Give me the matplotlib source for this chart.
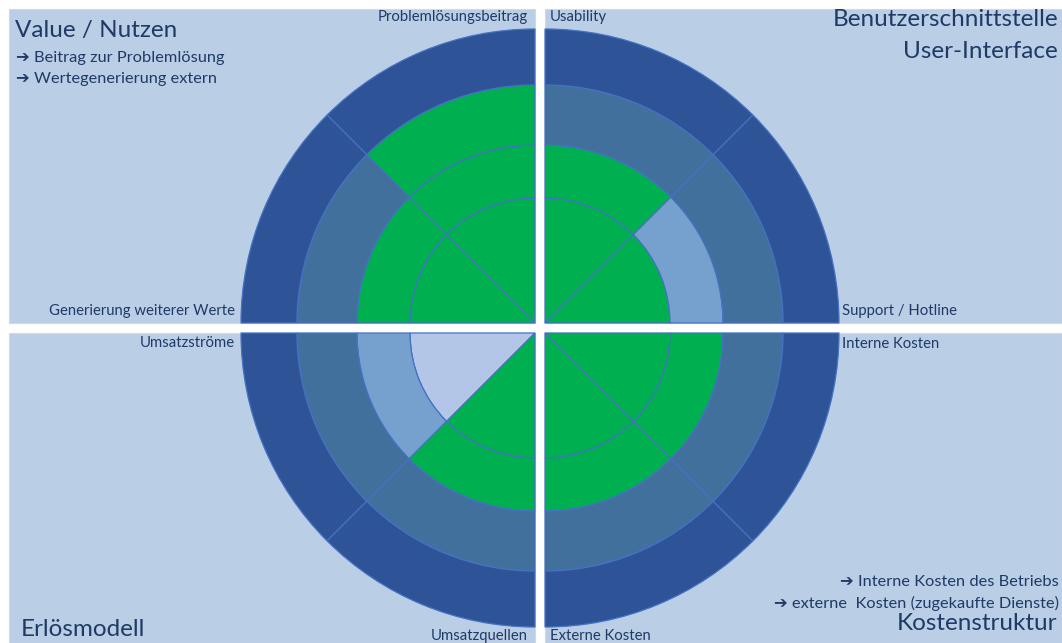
import matplotlib
matplotlib.use("Agg")
import matplotlib.pyplot as plt
from matplotlib.patches import Wedge, Rectangle

# ---------------- data ----------------
quadrant_titles = [["Value / Nutzen"], ["Benutzerschnittstelle", "User-Interface"],
                   ["Erlösmodell"], ["Kostenstruktur"]]
quadrant_notes = [
    ["➔ Beitrag zur Problemlösung", "➔ Wertegenerierung extern"],
    [],
    [],
    ["➔ Interne Kosten des Betriebs", "➔ externe  Kosten (zugekaufte Dienste)"],
]
criteria = ["Problemlösungsbeitrag", "Generierung weiterer Werte",
            "Usability", "Support / Hotline",
            "Umsatzströme", "Umsatzquellen",
            "Externe Kosten", "Interne Kosten"]
# number of rings (levels) reached, counted from the centre, out of 4
scores = [3, 2, 2, 1, 0, 2, 2, 2]
n_levels = 4

# ---------------- style ----------------
W, H = 1062, 643
ring_radii = [0, 125, 178, 238, 294]
level_colors = ["#B4C6E7", "#76A0CE", "#42709C", "#2F5397"]
green = "#00B050"
edge = "#4472C4"
bg = "#BACEE6"
txt = "#1F3A66"
fam = ["Lato", "DejaVu Sans"]

fig = plt.figure(figsize=(W / 100, H / 100), dpi=100)
ax = fig.add_axes([0, 0, 1, 1])
ax.set_xlim(0, W)
ax.set_ylim(H, 0)
ax.set_aspect("equal")
ax.axis("off")

# quadrant layout: centre (pie corner) and panel rectangle
gx0, gx1, gy0, gy1 = 535, 545, 323, 333
top, left = 9, 9
centers = [(gx0, gy0), (gx1, gy0), (gx0, gy1), (gx1, gy1)]
panels = [(left, top, gx0 - left, gy0 - top),
          (gx1, top, W - gx1, gy0 - top),
          (left, gy1, gx0 - left, H - gy1),
          (gx1, gy1, W - gx1, H - gy1)]
# screen angle ranges (degrees, counter-clockwise, y up) for each criterion
sector_angles = [(90, 135), (135, 180), (45, 90), (0, 45),
                 (180, 225), (225, 270), (270, 315), (315, 360)]

for (x, y, w, h) in panels:
    ax.add_patch(Rectangle((x, y), w, h, facecolor=bg, edgecolor="#D4D9E0", lw=0.8, zorder=0))

for i, (a0, a1) in enumerate(sector_angles):
    cx, cy = centers[i // 2]
    for lvl in range(n_levels):
        col = green if lvl < scores[i] else level_colors[lvl]
        r_in, r_out = ring_radii[lvl], ring_radii[lvl + 1]
        ax.add_patch(Wedge((cx, cy), r_out, -a1, -a0, width=r_out - r_in,
                           facecolor=col, edgecolor=edge, lw=0.9, zorder=2))

R = ring_radii[-1]
fs_small = 10.7
# criterion labels
lab_pos = [
    (gx0 - 7, 17, "right"), (gx0 - R - 6, gy0 - 12, "right"),
    (gx1 + 5, 17, "left"), (gx1 + R + 3, gy0 - 12, "left"),
    (gx0 - R - 6, gy1 + 10, "right"), (gx0 - 7, H - 7, "right"),
    (gx1 + 5, H - 7, "left"), (gx1 + R + 3, gy1 + 11, "left"),
]
for (x, y, ha), lab in zip(lab_pos, criteria):
    ax.text(x, y, lab, ha=ha, va="center", fontsize=fs_small, color=txt, family=fam, zorder=5)

# quadrant titles
fs_big = 17.5
ax.text(15, 31, quadrant_titles[0][0], ha="left", va="center", fontsize=fs_big, color=txt, family=fam)
for k, t in enumerate(quadrant_titles[1]):
    ax.text(W - 4, 19 + 32 * k, t, ha="right", va="center", fontsize=fs_big, color=txt, family=fam)
ax.text(21, 629, quadrant_titles[2][0], ha="left", va="center", fontsize=fs_big, color=txt, family=fam)
ax.text(W - 5, 624, quadrant_titles[3][0], ha="right", va="center", fontsize=fs_big, color=txt, family=fam)

fs_note = 11.8
for k, note in enumerate(quadrant_notes[0]):
    ax.text(16, 58 + 21 * k, note, ha="left", va="center", fontsize=fs_note, color=txt, family=fam)
for k, note in enumerate(quadrant_notes[3]):
    ax.text(W - 3, 582 + 21 * k, note, ha="right", va="center", fontsize=fs_note, color=txt, family=fam)

fig.savefig("out.png", dpi=100, facecolor="white")
